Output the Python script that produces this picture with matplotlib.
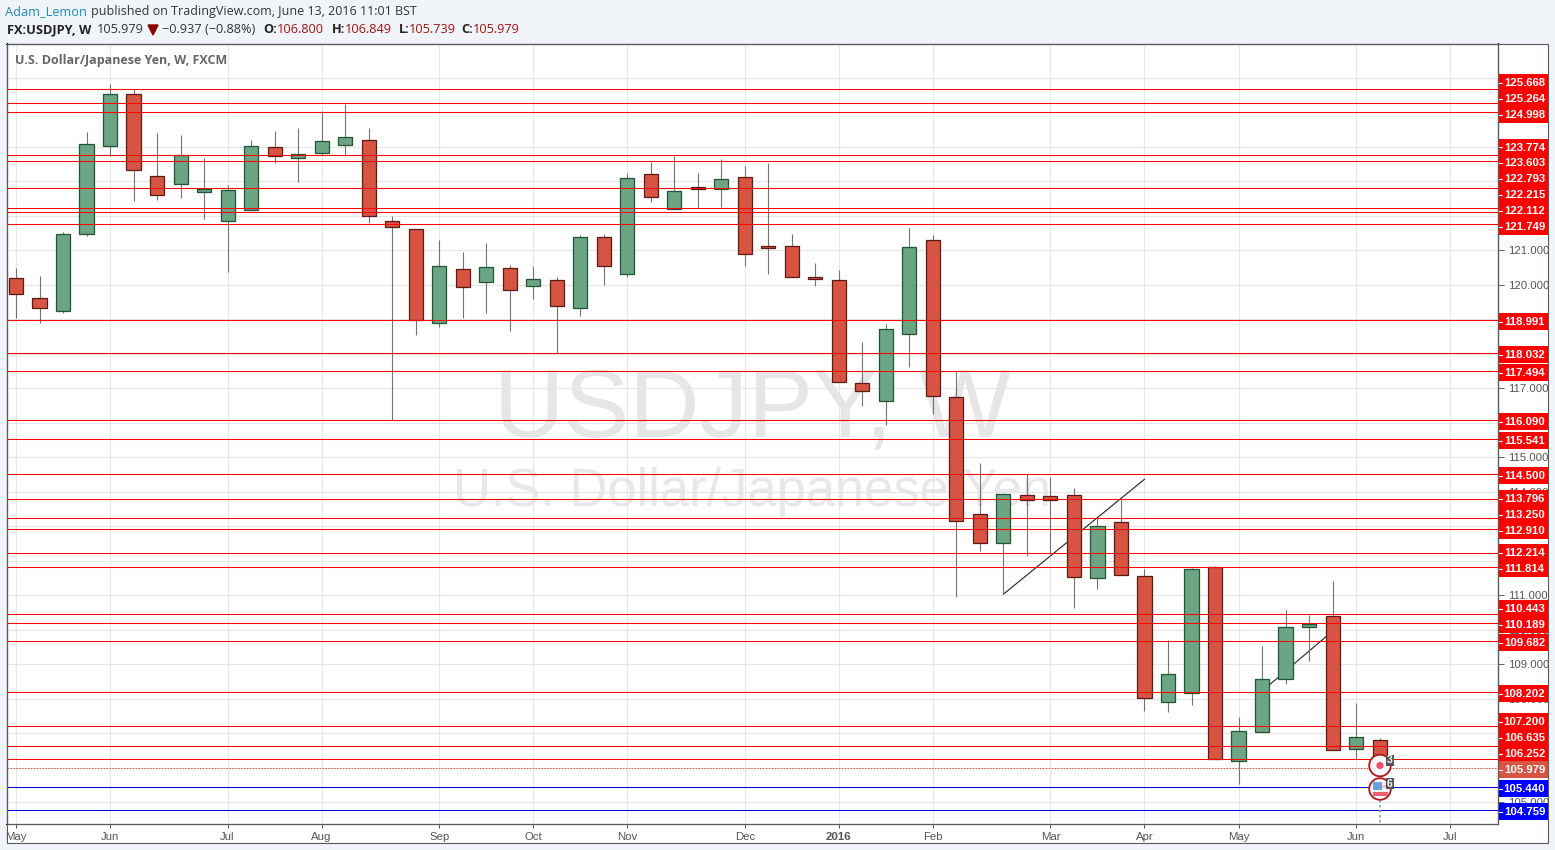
import numpy as np
import matplotlib
matplotlib.use('Agg')
import matplotlib.pyplot as plt
from matplotlib.patches import Rectangle, Circle

# Velas semanales USDJPY
aperturas = [120.20, 119.62, 119.24, 121.47, 124.02, 125.53, 123.15, 122.92, 122.69, 121.85,
             122.17, 123.99, 123.68, 123.82, 124.05, 124.20, 121.85, 121.62, 118.89, 120.46,
             120.08, 120.49, 119.96, 120.14, 119.33, 121.39, 120.31, 123.21, 122.20, 122.84,
             122.78, 123.13, 121.12, 121.12, 120.23, 120.14, 117.15, 116.63, 118.57, 121.30,
             116.75, 113.35, 112.51, 113.90, 113.87, 113.90, 111.50, 113.12, 111.55, 107.90,
             108.16, 111.81, 106.19, 107.03, 108.57, 110.08, 110.40, 106.54, 106.800]
maximos = [120.49, 120.25, 121.53, 124.43, 125.82, 125.68, 124.40, 124.34, 123.68, 122.89,
           124.20, 124.46, 124.55, 125.04, 125.24, 124.55, 122.00, 121.62, 121.30, 120.95,
           121.21, 120.57, 120.54, 120.23, 121.44, 121.47, 123.24, 123.56, 123.73, 123.24,
           123.65, 123.44, 123.53, 121.47, 120.63, 120.43, 118.34, 118.86, 121.65, 121.44,
           117.50, 114.83, 113.96, 114.51, 114.43, 114.11, 113.24, 113.82, 111.76, 109.70,
           111.79, 111.84, 107.47, 109.53, 110.57, 110.42, 111.41, 107.87, 106.849]
minimos = [119.04, 118.89, 119.18, 121.41, 123.73, 122.43, 122.46, 122.52, 121.91, 120.37,
           122.17, 123.53, 122.98, 123.76, 123.76, 121.79, 116.08, 118.54, 118.78, 119.04,
           119.18, 118.66, 119.59, 118.02, 119.09, 119.99, 120.23, 122.40, 122.20, 122.23,
           122.26, 120.54, 120.31, 120.23, 119.96, 117.18, 116.48, 115.93, 117.62, 116.25,
           110.94, 112.28, 111.03, 112.13, 112.22, 110.63, 111.18, 111.58, 107.64, 107.61,
           107.81, 106.25, 105.52, 107.03, 108.42, 109.09, 106.51, 106.25, 105.739]
cierres = [119.73, 119.33, 121.47, 124.08, 125.53, 123.33, 122.60, 123.76, 122.78, 122.75,
           124.02, 123.73, 123.79, 124.17, 124.29, 122.00, 121.68, 118.98, 120.54, 119.94,
           120.52, 119.85, 120.17, 119.38, 121.39, 120.54, 123.10, 122.55, 122.72, 122.78,
           123.07, 120.89, 121.07, 120.23, 120.17, 117.18, 116.92, 118.72, 121.10, 116.78,
           113.15, 112.51, 113.93, 113.76, 113.76, 111.53, 113.00, 111.58, 108.02, 108.71,
           111.76, 106.25, 107.06, 108.57, 110.08, 110.16, 106.51, 106.89, 105.979]

# Niveles horizontales
niveles_rojos = [125.668, 125.264, 124.998, 123.774, 123.603, 122.793, 122.215, 122.112, 121.749,
                 118.991, 118.032, 117.494, 116.090, 115.541, 114.500, 113.796, 113.250, 112.910,
                 112.214, 111.814, 110.443, 110.189, 109.682, 108.202, 107.200, 106.635, 106.252]
niveles_azules = [105.440, 104.759]
ultimo_precio = 105.979

# Eje de tiempo
meses_pos = [0, 4, 9, 13, 18, 22, 26, 31, 35, 39, 44, 48, 52, 57, 61]
meses_txt = ['May', 'Jun', 'Jul', 'Aug', 'Sep', 'Oct', 'Nov', 'Dec', '2016',
             'Feb', 'Mar', 'Apr', 'May', 'Jun', 'Jul']
precios_eje = list(range(105, 127))
# Solo estos precios se ven (el resto queda tapado por las etiquetas rojas)
precios_visibles = [121, 120, 117, 115, 114, 111, 110, 109, 108, 105]

# Lineas de tendencia (indice de vela, precio)
tendencia_1_x = [42, 48]
tendencia_1_y = [111.03, 114.36]
tendencia_2_x = [53, 56]
tendencia_2_y = [108.22, 109.96]

# Altura en pixeles de cada etiqueta del eje (se apilan para no solaparse)
etiq_rojas_py = [82, 98, 114, 146.5, 162, 178, 194, 210, 226, 321, 354, 372, 421, 440, 475,
                 498, 514, 530, 552, 568, 608, 624, 642, 693, 721, 737, 753]
etiq_azules_py = [788, 811]
etiq_ultimo_py = 769

ROJO = '#d75442'
VERDE = '#6ba583'
BORDE_ROJO = '#5b1a13'
BORDE_VERDE = '#225437'
MECHA = '#737375'
REJILLA = '#e6e6e6'
GRIS_TXT = '#555555'
FONDO = '#f1f4f9'
MARCO = '#5a5a5a'

W, H = 1555, 850
plt.rcParams['font.family'] = ['Liberation Sans', 'DejaVu Sans']
fig = plt.figure(figsize=(W / 100, H / 100), dpi=100, facecolor=FONDO)

# Ejes principales colocados en pixeles
izq, der, arr, aba = 6.5, 1498, 43.5, 824
ax = fig.add_axes([izq / W, 1 - aba / H, (der - izq) / W, (aba - arr) / H])
ax.patch.set_alpha(0)
paso = 23.51
ax.set_xlim((izq - 16) / paso, (der - 16) / paso)
ax.set_ylim(121 - (aba - 250.3) / 34.49, 121 + (250.3 - arr) / 34.49)

ax.set_xticks(meses_pos)
ax.set_xticklabels(meses_txt, fontsize=8.2, color=GRIS_TXT)
ax.get_xticklabels()[8].set_fontweight('bold')
ax.set_yticks(precios_eje)
ax.set_yticklabels([f'{p:.3f}' if p in precios_visibles else '' for p in precios_eje],
                   fontsize=8.2, color=GRIS_TXT)
ax.yaxis.tick_right()
ax.tick_params(axis='x', length=3, width=0.7, color=MARCO, pad=3)
ax.tick_params(axis='y', length=4, width=0.7, color=MARCO, pad=3)
ax.grid(True, color=REJILLA, linewidth=0.8, zorder=0)
ax.set_axisbelow(True)
for s in ax.spines.values():
    s.set_color(MARCO)
    s.set_linewidth(0.8)

# Capa en pixeles para cabecera, etiquetas e iconos
ov = fig.add_axes([0, 0, 1, 1], facecolor='none')
ov.set_xlim(0, W)
ov.set_ylim(H, 0)
ov.axis('off')
ax.set_zorder(1)
ov.set_zorder(2)

# Marcas de agua, por debajo de todo
fondo_txt = fig.add_axes(ax.get_position(), facecolor='white', zorder=0)
fondo_txt.set_xticks([])
fondo_txt.set_yticks([])
fondo_txt.set_xlim(izq, der)
fondo_txt.set_ylim(aba, arr)
fondo_txt.text(753, 437, 'USDJPY, W', fontsize=70, color='#e6e6e6', ha='center', va='baseline')
fondo_txt.text(752, 506, 'U.S. Dollar/Japanese Yen', fontsize=37.8, color='#e8e8e8', ha='center', va='baseline')

# Velas
x = np.arange(len(aperturas))
o = np.array(aperturas)
c = np.array(cierres)
sube = c >= o
ax.plot(tendencia_1_x, tendencia_1_y, color='#222222', lw=0.8, zorder=2)
ax.plot(tendencia_2_x, tendencia_2_y, color='#222222', lw=0.8, zorder=2)
ax.vlines(x, minimos, maximos, color=MECHA, lw=0.8, zorder=3)
ax.bar(x[sube], (c - o)[sube], bottom=o[sube], width=0.6, color=VERDE,
       edgecolor=BORDE_VERDE, linewidth=0.9, zorder=5)
ax.bar(x[~sube], (o - c)[~sube], bottom=c[~sube], width=0.6, color=ROJO,
       edgecolor=BORDE_ROJO, linewidth=0.9, zorder=5)

# Niveles
ax.hlines(niveles_rojos, *ax.get_xlim(), color='#ff0000', lw=0.75, zorder=6)
ax.hlines(niveles_azules, *ax.get_xlim(), color='#0000e0', lw=0.75, zorder=6)
ax.axhline(ultimo_precio, color=ROJO, lw=0.7, ls=(0, (1.5, 1.5)), zorder=6)


# Etiqueta de precio sobre el eje derecho
def etiqueta(py, valor, color):
    ov.add_patch(Rectangle((der, py - 7.6), 50, 16.4, facecolor=color, edgecolor='none', zorder=3))
    ov.plot([der, der + 4], [py + 0.5, py + 0.5], color='white', lw=0.8, zorder=4)
    ov.text(der + 26.5, py + 1, f'{valor:.3f}', color='white', fontsize=8.2, fontweight='bold',
            ha='center', va='center', zorder=4)


for py, v in zip(etiq_rojas_py, niveles_rojos):
    etiqueta(py, v, '#ff0000')
for py, v in zip(etiq_azules_py, niveles_azules):
    etiqueta(py, v, '#0000ff')
etiqueta(etiq_ultimo_py, ultimo_precio, ROJO)
ov.plot([der, der], [arr, aba], color=MARCO, lw=0.8, zorder=5)

# Marco exterior, con blanco debajo de la zona de precios y fechas
fig.add_artist(Rectangle((izq / W, 1 - 843 / H), (1548 - izq) / W, (843 - arr) / H, facecolor='white',
                         edgecolor='none', transform=fig.transFigure, zorder=-1))
ov.add_patch(Rectangle((izq, arr), 1548 - izq, 843 - arr, facecolor='none', edgecolor=MARCO, lw=0.8, zorder=6))

# Iconos de eventos
ov.plot([1380, 1380], [800, 824], color='#9a9a9a', lw=1.2, ls=(0, (1.5, 1.5)), zorder=7)
for cy in (765.5, 789):
    ov.add_patch(Circle((1380, cy), 10.8, facecolor='#f6f7fb', edgecolor='#b01818', lw=1.3, zorder=8))
ov.add_patch(Circle((1380, 765.5), 3.6, facecolor='#ef5066', edgecolor='none', zorder=9))
ov.add_patch(Rectangle((1372.5, 785), 15, 2.5, facecolor='#f6c6c8', edgecolor='none', zorder=9))
ov.add_patch(Rectangle((1372.5, 792), 15, 3.5, facecolor='#ef6070', edgecolor='none', zorder=9))
ov.add_patch(Rectangle((1373, 782), 8.5, 8, facecolor='#6a9fe0', edgecolor='none', zorder=10))
for cx, cy, t in ((1389.8, 760, '3'), (1389.8, 783.5, '6')):
    ov.add_patch(Rectangle((cx - 3.8, cy - 5.5), 7.6, 11, facecolor='#555555', edgecolor='none', zorder=11))
    ov.text(cx, cy + 0.2, t, color='white', fontsize=7.4, fontweight='bold', ha='center', va='center', zorder=12)

# Cabecera
cab = ['Open Sans', 'DejaVu Sans']
ov.text(5, 11.5, 'Adam_Lemon', color='#1a8dc2', fontsize=9.2, family=cab, va='center')
ov.text(91, 11.5, 'published on TradingView.com, June 13, 2016 11:01 BST', color='#333333',
        fontsize=9.0, family=cab, va='center')
ov.text(7, 29.5, 'FX:USDJPY, W', color='#222222', fontsize=9.2, fontweight='bold', family=cab, va='center')
ov.text(97, 29.5, '105.979', color='#333333', fontsize=9.2, family=cab, va='center')
ov.fill([148, 158, 153], [25, 25, 35], color='#8b0000', zorder=3)
ov.text(162, 29.5, '\u22120.937 (\u22120.88%)', color='#333333', fontsize=9.2, family=cab, va='center')
for x_et, et, x_val, val in ((263, 'O:', 277, '106.800'), (332, 'H:', 345, '106.849'),
                             (399, 'L:', 409, '105.739'), (461, 'C:', 473, '105.979')):
    ov.text(x_et, 29.5, et, color='#222222', fontsize=9.2, fontweight='bold', family=cab, va='center')
    ov.text(x_val, 29.5, val, color='#a81010', fontsize=9.2, family=cab, va='center')
ov.text(15, 60.5, 'U.S. Dollar/Japanese Yen, W, FXCM', color='#666666', fontsize=9.0,
        fontweight='bold', family=cab, va='center', zorder=7)

fig.savefig('out.png', dpi=100, facecolor=FONDO)
